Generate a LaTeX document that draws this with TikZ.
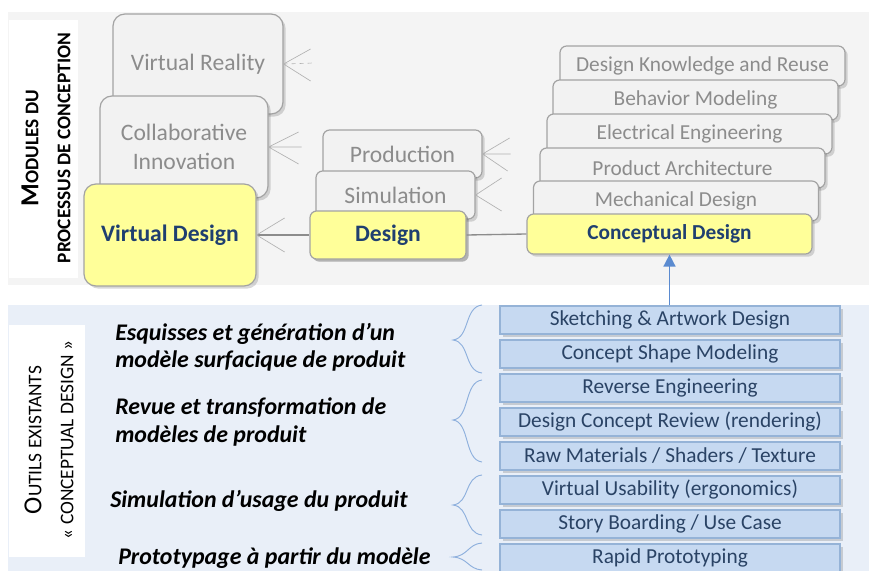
\documentclass[tikz,border=0pt]{standalone}
\usepackage{fontspec}
\setmainfont{Carlito}
\usetikzlibrary{shadows, arrows.meta}

\definecolor{fondgris}{HTML}{F4F4F4}
\definecolor{fondbleu}{HTML}{E9EFF8}
\definecolor{boitegris}{HTML}{F2F2F2}
\definecolor{bordgris}{HTML}{A3A3A3}
\definecolor{textegris}{HTML}{8C8C8C}
\definecolor{jaune}{HTML}{FFFF99}
\definecolor{bleufonce}{HTML}{1F3F70}
\definecolor{boitebleu}{HTML}{C6D9F1}
\definecolor{bordbleu}{HTML}{95B3D7}
\definecolor{textebleu}{HTML}{2A4365}
\definecolor{bleuaccolade}{HTML}{8EB0DD}
\definecolor{bleufleche}{HTML}{5B8BD0}
\definecolor{traitgris}{HTML}{8C8C8C}

\tikzset{
  ombre/.style={drop shadow={shadow xshift=2pt, shadow yshift=-2pt, opacity=0.22, fill=black!70}},
  module/.style={draw=bordgris, fill=boitegris, text=textegris, line width=0.9pt,
    rounded corners=9pt, align=center, inner sep=0pt, ombre,
    font=\fontsize{17.7}{21.5}\selectfont},
  moduleactif/.style={module, fill=jaune, text=bleufonce,
    font=\fontsize{17.7}{21.5}\selectfont\bfseries},
  etape/.style={module, rounded corners=5pt, minimum width=119.25pt, minimum height=36pt},
  sousmodule/.style={module, rounded corners=5pt, minimum width=213.75pt, minimum height=30pt,
    font=\fontsize{16}{19}\selectfont},
  outil/.style={draw=bordbleu, fill=boitebleu, text=textebleu, line width=0.9pt,
    minimum width=255pt, minimum height=21pt, inner sep=0pt, ombre,
    font=\fontsize{16}{19}\selectfont},
  fourche/.style={draw=black!30, line width=0.5pt},
  liaison/.style={draw=traitgris, line width=1pt},
  accolade/.style={draw=bleuaccolade, line width=0.7pt},
  consigne/.style={anchor=west, inner sep=0pt, align=left,
    font=\fontsize{17.9}{20.5}\selectfont\bfseries\itshape},
  titre/.style={rotate=90, align=center, inner sep=0pt}
}

\begin{document}
\begin{tikzpicture}[x=0.75pt, y=-0.75pt, >=Stealth]
  \useasboundingbox (0,0) rectangle (869,571);

  % fonds des deux zones
  \fill[fondgris] (8,12) rectangle (869,285);
  \fill[white] (9,20) rectangle (78,278);
  \fill[fondbleu] (8,305) rectangle (869,571);
  \fill[white] (9,325) rectangle (85,557);

  % titres verticaux
  \node[titre, font=\fontsize{14.5}{24}\selectfont\bfseries] (modules) at (46,148)
    {{\fontsize{19.5}{24}\selectfont M}ODULES DU\\PROCESSUS DE CONCEPTION};
  \node[titre, font=\fontsize{14.5}{24}\selectfont] (outils) at (49,440)
    {{\fontsize{19.5}{24}\selectfont O}UTILS EXISTANTS\\« CONCEPTUAL DESIGN »};

  % modules du processus
  \node[module, minimum width=127.5pt, minimum height=75pt] (vr) at (198,64) {Virtual Reality};
  \node[module, minimum width=126pt, minimum height=76.5pt] (ci) at (184,147) {Collaborative\\Innovation};
  \node[moduleactif, minimum width=129pt, minimum height=76.5pt] (vd) at (170,235) {Virtual Design};

  \node[etape] (prod) at (402.5,154) {Production};
  \node[etape] (simu) at (395.5,195) {Simulation};
  \node[etape, moduleactif, rounded corners=5pt, minimum width=117pt] (design) at (388,235) {Design};

  \node[sousmodule] (dkr) at (702.5,66) {Design Knowledge and Reuse};
  \node[sousmodule] (bm) at (695.5,100) {Behavior Modeling};
  \node[sousmodule] (ee) at (689.5,134) {Electrical Engineering};
  \node[sousmodule] (pa) at (682.5,168) {Product Architecture};
  \node[sousmodule] (md) at (676,201) {Mechanical Design};
  \node[sousmodule, fill=jaune, text=bleufonce, font=\fontsize{16}{19}\selectfont\bfseries] (cd) at (669.5,234) {Conceptual Design};

  % liaisons
  \draw[liaison] (vd.east) -- (design.west);
  \draw[liaison] (design.east) -- (cd.west);

  % fourches
  \draw[fourche] (vr.east) -- ++(27,-15) (vr.east) -- ++(27,17);
  \draw[fourche, dashed] (vr.east) -- ++(30,-1);
  \draw[fourche] (ci.east) -- ++(30,-15) (ci.east) -- ++(33,0) (ci.east) -- ++(30,17);
  \draw[fourche] (vd.east) -- ++(28,-17) (vd.east) -- ++(28,17);
  \draw[fourche] (prod.east) -- ++(27,-16) (prod.east) -- ++(28,0) (prod.east) -- ++(25,17);
  \draw[fourche] (simu.east) -- ++(26,-17) (simu.east) -- ++(26,16);

  % outils existants
  \node[outil] (sketch) at (670,320) {Sketching \& Artwork Design};
  \node[outil] (shape) at (670,354) {Concept Shape Modeling};
  \node[outil] (reverse) at (670,388) {Reverse Engineering};
  \node[outil] (review) at (670,422) {Design Concept Review (rendering)};
  \node[outil] (raw) at (670,456) {Raw Materials / Shaders / Texture};
  \node[outil] (usab) at (670,490) {Virtual Usability (ergonomics)};
  \node[outil] (story) at (670,524) {Story Boarding / Use Case};
  \node[outil] (rapid) at (670,558) {Rapid Prototyping};

  \draw[->, bleufleche, line width=1.2pt, -{Triangle[width=9pt, length=9pt]}] (cd.south |- sketch.north) -- (cd.south);

  % accolades
  \draw[accolade] (482,305) .. controls (464,307) and (470,338) .. (453,340)
                            .. controls (470,342) and (464,371) .. (482,373);
  \draw[accolade] (482,380) .. controls (464,382) and (470,418) .. (453,420)
                            .. controls (470,422) and (464,460) .. (482,462);
  \draw[accolade] (482,475) .. controls (464,477) and (470,503) .. (453,505)
                            .. controls (470,507) and (464,533) .. (482,535);
  \draw[accolade] (482,543) .. controls (468,544) and (468,556) .. (453,557)
                            .. controls (468,558) and (468,569) .. (482,570);

  % descriptions
  \node[consigne] (esquisse) at (115,347) {Esquisses et génération d’un\\modèle surfacique de produit};
  \node[consigne] (revue) at (115,422) {Revue et transformation de\\modèles de produit};
  \node[consigne] (usage) at (110,501) {Simulation d’usage du produit};
  \node[consigne] (proto) at (118,558) {Prototypage à partir du modèle};
\end{tikzpicture}
\end{document}
